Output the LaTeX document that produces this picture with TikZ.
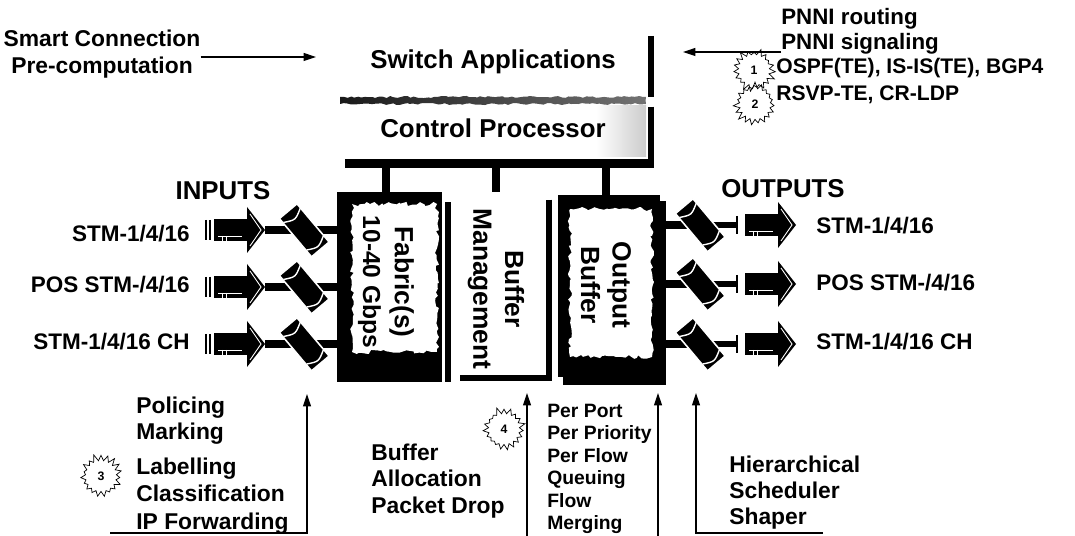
\documentclass[tikz,border=0pt]{standalone}
\usepackage{fontspec}
\setmainfont{Liberation Sans}
\usetikzlibrary{shapes.geometric, shapes.symbols, arrows.meta, positioning, backgrounds, calc, decorations.pathmorphing}

\tikzset{
  pics/fatarrow/.style={code={
    \fill (0,-11) rectangle (35,11);
    \fill (33,-23) -- (51,0) -- (33,23) -- cycle;
    \draw[white, line width=0.5pt] (36,-16) -- (47,0) -- (36,16);
    \draw[white, line width=0.4pt] (4,6) -- (28,6) (8,6) -- (8,11) (12,6) -- (12,11);
    \coordinate (-tip) at (51,0);
    \coordinate (-tail) at (0,0);
  }}
}

\begin{document}
\begin{tikzpicture}[x=0.02cm, y=-0.02cm, font=\bfseries]
    \useasboundingbox (0,0) rectangle (1075,536);
    % Styles
    \tikzstyle{lbl} = [inner sep=0pt, align=left, font=\fontsize{13}{15}\selectfont\bfseries]
    \tikzstyle{rowlbl} = [inner sep=0pt, font=\fontsize{12.8}{15}\selectfont\bfseries]
    \tikzstyle{small} = [inner sep=0pt, align=left, font=\fontsize{11}{12.75}\selectfont\bfseries]
    \tikzstyle{title} = [inner sep=0pt, font=\fontsize{14.7}{17}\selectfont\bfseries]
    \tikzstyle{boxtxt} = [inner sep=0pt, rotate=-90, align=center, font=\fontsize{15}{18}\selectfont\bfseries]
    \tikzstyle{blackbox} = [rectangle, fill=black, inner sep=0pt]
    \tikzstyle{area} = [rectangle, inner sep=0pt]
    \tikzstyle{conn} = [cylinder, fill=black, draw=white, line width=0.9pt, rotate=-50, aspect=1.1, minimum width=0.46cm, minimum height=1.0cm, inner sep=0pt]
    \tikzstyle{connarc} = [white, line width=0.8pt, rotate=-50]
    \tikzstyle{burst} = [starburst, draw, line width=0.4pt, starburst points=19, starburst point height=4pt, minimum size=0.9cm, inner sep=0pt, font=\fontsize{7}{8}\selectfont\bfseries]
    \tikzstyle{wire} = [line width=4pt]
    \tikzstyle{stub} = [line width=4.6pt]
    \tikzstyle{ptr} = [-{Triangle[length=7pt, width=4.5pt]}, line width=0.6pt]
    \tikzstyle{rough} = [decorate, decoration={random steps, segment length=2pt, amplitude=1.2pt}]

    % Nodes
    \node[area, minimum width=6.22cm, minimum height=1.32cm] (swapp) at (495.5,64) {};
    \node[title] (swapptxt) at (493,62) {Switch Applications};
    \node[area, minimum width=6.22cm, minimum height=1.26cm] (ctrl) at (495.5,131.5) {};
    \shade[left color=white, right color=black!20] (596,106) rectangle (646,157);
    \node[title] (ctrltxt) at (493,128) {Control Processor};

    \node[blackbox, minimum width=2.1cm, minimum height=3.8cm] (fabric) at (389.5,287) {};
    \fill[white, rough] (352,204) rectangle (437,352);
    \node[boxtxt] (fabrictxt) at (386,282) {Fabric(s)\\{\fontsize{14}{18}\selectfont 10-40 Gbps}};

    \node[area, minimum width=1.78cm, minimum height=3.56cm] (bufmgmt) at (504.5,289) {};
    \node[boxtxt] (bufmgmttxt) at (496,289) {Buffer\\Management};

    \node[blackbox, minimum width=2.04cm, minimum height=3.64cm] (outbuf) at (609,286) {};
    \fill[white, rough] (570,209) rectangle (652,357);
    \node[boxtxt] (outbuftxt) at (606,285) {Output\\Buffer};

    \node[title] (inputs) at (223,191) {INPUTS};
    \node[title] (outputs) at (783,189) {OUTPUTS};

    \foreach \i/\y/\ly/\t in {1/230/234/{STM-1/4/16}, 2/287/285/{POS STM-/4/16}, 3/344/342/{STM-1/4/16 CH}} {
        \node[rowlbl, anchor=east] (inlbl\i) at (190,\ly) {\t};
        \draw[line width=1.1pt] (206,\y-10) -- (206,\y+10) (210,\y-10) -- (210,\y+10);
        \pic (ain\i) at (214,\y) {fatarrow};
        \node[conn] (cin\i) at (304,\y) {};
        \draw[connarc, shift={(cin\i.center)}] (-19,-11) .. controls (-13,0) .. (-19,11) (17,-11) .. controls (23,0) .. (17,11);
    }
    \foreach \i/\y/\ly/\t in {1/225/226/{STM-1/4/16}, 2/284/283/{POS STM-/4/16}, 3/344/342/{STM-1/4/16 CH}} {
        \node[conn] (cout\i) at (700,\y) {};
        \draw[connarc, shift={(cout\i.center)}] (-19,-11) .. controls (-13,0) .. (-19,11) (17,-11) .. controls (23,0) .. (17,11);
        \coordinate (obar\i) at (737,\y);
        \draw[line width=1.6pt] (737,\y-9) -- (737,\y+9);
        \pic (aout\i) at (745,\y) {fatarrow};
        \node[rowlbl, anchor=west] (outlbl\i) at (816,\ly) {\t};
    }

    \node[lbl, align=center] (smart) at (102,54) {Smart Connection\\Pre-computation};
    \node[lbl, anchor=west, font=\fontsize{12.7}{14.2}\selectfont\bfseries] (pnni) at (781,31.5) {PNNI routing\\PNNI signaling};
    \node[burst, random starburst=3] (b1) at (754,70) {1};
    \node[burst, random starburst=7] (b2) at (755,104) {2};
    \node[lbl, anchor=west, font=\fontsize{12}{14}\selectfont\bfseries] (ospf) at (776,68) {OSPF(TE), IS-IS(TE), BGP4};
    \node[lbl, anchor=west, font=\fontsize{12}{14}\selectfont\bfseries] (rsvp) at (776,95) {RSVP-TE, CR-LDP};

    \node[lbl, anchor=west, font=\fontsize{13}{14.8}\selectfont\bfseries] (pol) at (136,421) {Policing\\Marking};
    \node[burst, random starburst=11] (b3) at (101,476) {3};
    \node[lbl, anchor=west, font=\fontsize{13}{15.5}\selectfont\bfseries] (lab) at (136,496) {Labelling\\Classification\\IP Forwarding};
    \node[lbl, anchor=west] (bufalloc) at (371,481) {Buffer\\Allocation\\Packet Drop};
    \node[burst, random starburst=5] (b4) at (504,429) {4};
    \node[small, anchor=west] (perport) at (547,469) {Per Port\\Per Priority\\Per Flow\\Queuing\\Flow\\Merging};
    \node[lbl, anchor=west, font=\fontsize{13}{14.8}\selectfont\bfseries] (hier) at (729,493) {Hierarchical\\Scheduler\\Shaper};

    % Frame edges
    \draw[line width=3.4pt] ([yshift=-3pt]swapp.north east) -- (swapp.south east);
    \shade[decorate, decoration={random steps, segment length=2pt, amplitude=0.6pt}, left color=black!90, right color=black!55] (340,97) rectangle (646,104);
    \draw[line width=3.4pt] ([yshift=-4pt]ctrl.north east) -- (ctrl.south east);
    \draw[line width=5.1pt] ([xshift=3pt]ctrl.south west) -- ([xshift=1.7pt]ctrl.south east);
    \draw[line width=3.4pt] (bufmgmt.north east) -- (bufmgmt.south east) -- (bufmgmt.south west);

    % Connections
    \draw[stub] (fabrictxt |- ctrl.south) -- (fabrictxt |- fabric.north);
    \draw[stub] (bufmgmttxt |- ctrl.south) -- (bufmgmttxt |- fabric.north);
    \draw[stub] (outbuftxt |- ctrl.south) -- (outbuftxt |- outbuf.north);

    \coordinate (appleft) at (316,57);
    \coordinate (appright) at (683,52);
    \draw[ptr] (smart.east |- appleft) -- (appleft);
    \draw[ptr] (pnni.west |- appright) -- (appright);

    \coordinate (clsend) at (110,533);
    \coordinate (clstip) at (307,394);
    \coordinate (bufend) at (527,536);
    \coordinate (buftip) at (527,393);
    \coordinate (qend) at (658,536);
    \coordinate (qtip) at (658,393);
    \coordinate (schend) at (823,533);
    \coordinate (schtip) at (696,393);
    \draw[ptr] (clsend) -| (clstip);
    \draw[ptr] (bufend) -- (buftip);
    \draw[ptr] (qend) -- (qtip);
    \draw[ptr] (schend) -| (schtip);

    % Background wires and shadows
    \begin{scope}[on background layer]
        \foreach \i in {1,2,3} {
            \draw[wire] (ain\i-tip) -- (cin\i.center);
            \draw[wire] (cin\i.center) -- (cin\i -| fabric.west);
            \draw[wire] (outbuf.east |- cout\i) -- (cout\i.center);
            \draw[wire, line width=3.4pt] (cout\i.center) -- (obar\i);
        }
        \fill (445,202) rectangle (451,382);
        \fill (563,201) rectangle (666,385);
    \end{scope}
\end{tikzpicture}
\end{document}
